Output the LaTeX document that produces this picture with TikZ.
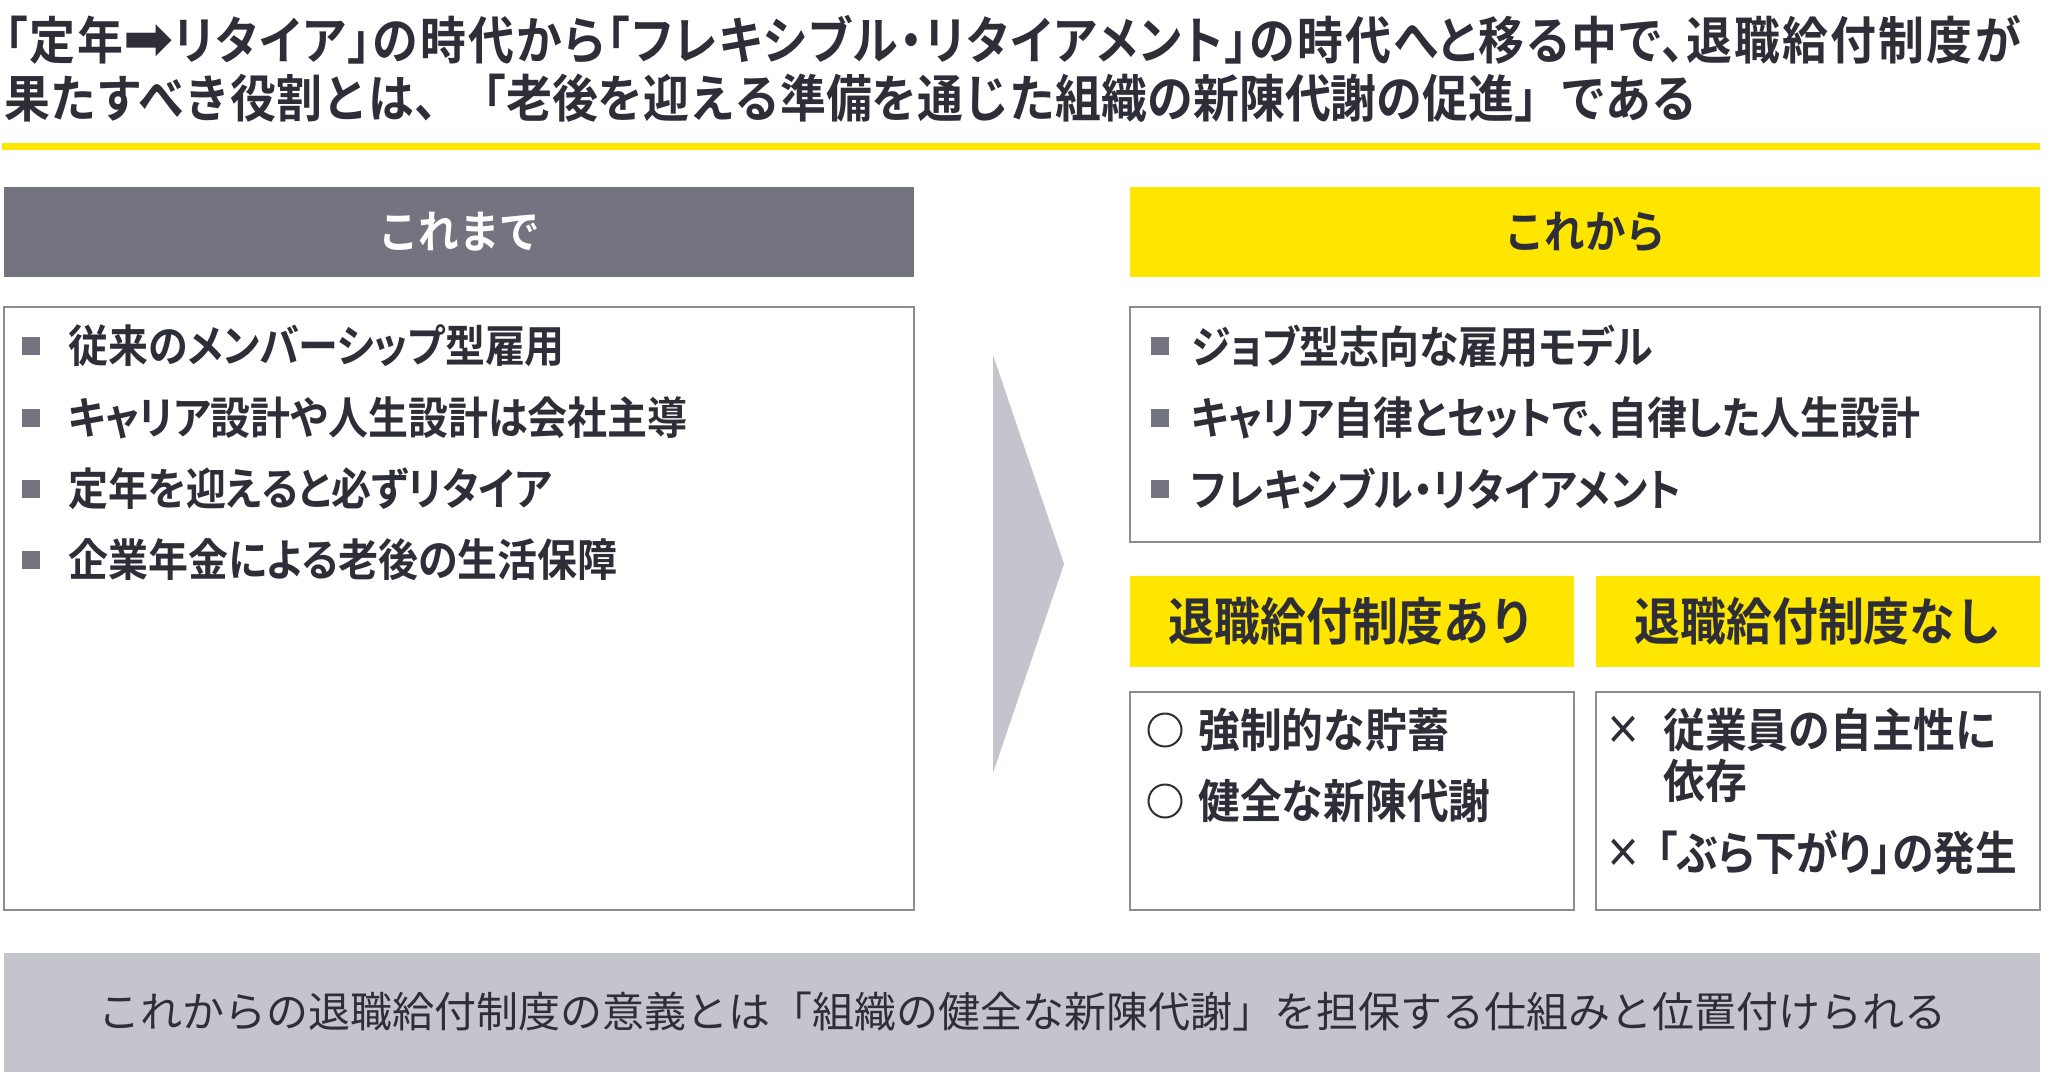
\documentclass[tikz,border=0pt]{standalone}
\usepackage{fontspec}
\usetikzlibrary{fit}
\newfontfamily\jpb{Noto Sans CJK JP Bold}[FakeStretch=0.9]
\newfontfamily\jpbp{Noto Sans CJK JP Bold}[FakeStretch=0.9,RawFeature=+palt]
\newfontfamily\jpbl{Noto Sans CJK JP Bold}[FakeStretch=0.9,RawFeature=+palt,LetterSpace=4.3]
\newfontfamily\jpr{Noto Sans CJK JP}
\newfontfamily\dejab{DejaVu Sans Bold}
\definecolor{txt}{HTML}{2E2E38}
\definecolor{ey}{HTML}{FFE600}
\definecolor{hgray}{HTML}{747480}
\definecolor{lgray}{HTML}{C4C4CD}
\definecolor{bord}{HTML}{8C8C96}
\tikzset{
  fs/.style={font=\jpb\fontsize{#1pt}{#1pt}\selectfont},
  fsp/.style={font=\jpbp\fontsize{#1pt}{#1pt}\selectfont},
  txtnode/.style={inner sep=0pt, text=txt},
  hdrbox/.style={inner sep=0pt, outer sep=0pt},
  cbox/.style={draw=bord, line width=1pt, fill=white, inner sep=0pt, outer sep=0pt},
  sq/.style={fill=hgray, inner sep=0pt, minimum size=9pt},
  circ/.style={draw=txt, line width=1pt, circle, inner sep=0pt, minimum size=16.5pt},
  rowtxt/.style={txtnode, anchor=west, fsp=22.2},
  subtxt/.style={txtnode, anchor=west, fs=23.2}
}
\begin{document}
\begin{tikzpicture}[x=0.5pt,y=-0.5pt]
\useasboundingbox (0,0) rectangle (2048,1072);
\fill[white] (0,0) rectangle (2048,1072);
% title
\node[txtnode, anchor=west, font=\jpbl\fontsize{25.5pt}{25.5pt}\selectfont] (t1) at (4,40) {「定年\smash{\dejab\fontsize{30pt}{30pt}\selectfont ➡}リタイア」の時代から「フレキシブル・リタイアメント」の時代へと移る中で、退職給付制度が};
\node[txtnode, anchor=west, fs=25.5] (t2) at (4,98) {果たすべき役割とは、「老後を迎える準備を通じた組織の新陳代謝の促進」である};
\fill[ey] (2,143) rectangle (2040,150);
% headers
\node[hdrbox, fill=hgray, fit={(4,187)(914,277)}] (h1) {};
\node[txtnode, text=white, fs=22.5] (h1t) at (h1.center) {これまで};
\node[hdrbox, fill=ey, fit={(1130,187)(2040,277)}] (h2) {};
\node[txtnode, fs=22.5] (h2t) at (h2.center) {これから};
% content boxes
\node[cbox, fit={(4,307)(914,910)}] (b1) {};
\node[cbox, fit={(1130,307)(2040,542)}] (b2) {};
% chevron
\fill[lgray] (993,355) -- (1064,564) -- (993,773) -- cycle;
% left rows
\node[sq] (s11) at (31,346) {};
\node[rowtxt] (r11) at (68,346) {従来のメンバーシップ型雇用};
\node[sq] (s12) at (31,418) {};
\node[rowtxt] (r12) at (68,418) {キャリア設計や人生設計は会社主導};
\node[sq] (s13) at (31,489) {};
\node[rowtxt] (r13) at (68,489) {定年を迎えると必ずリタイア};
\node[sq] (s14) at (31,560) {};
\node[rowtxt] (r14) at (68,560) {企業年金による老後の生活保障};
% right rows
\node[sq] (s21) at (1160,346) {};
\node[rowtxt] (r21) at (1191,346) {ジョブ型志向な雇用モデル};
\node[sq] (s22) at (1160,418) {};
\node[rowtxt] (r22) at (1191,418) {キャリア自律とセットで、自律した人生設計};
\node[sq] (s23) at (1160,489) {};
\node[rowtxt] (r23) at (1191,489) {フレキシブル・リタイアメント};
% sub headers
\node[hdrbox, fill=ey, fit={(1130,576)(1574,667)}] (sh1) {};
\node[txtnode, fs=25.5] (sh1t) at (sh1.center) {退職給付制度あり};
\node[hdrbox, fill=ey, fit={(1596,576)(2040,667)}] (sh2) {};
\node[txtnode, fs=25.5] (sh2t) at (sh2.center) {退職給付制度なし};
% sub boxes
\node[cbox, fit={(1130,692)(1574,910)}] (sb1) {};
\node[cbox, fit={(1596,692)(2040,910)}] (sb2) {};
\node[circ] (c1) at (1165,730) {};
\node[subtxt] (st1) at (1198,730) {強制的な貯蓄};
\node[circ] (c2) at (1165,801) {};
\node[subtxt] (st2) at (1198,801) {健全な新陳代謝};
\node[txtnode, fs=20] (x1) at (1623,730) {×};
\node[subtxt] (st3) at (1663,730) {従業員の自主性に};
\node[subtxt] (st4) at (1663,781) {依存};
\node[txtnode, fs=20] (x2) at (1623,853) {×};
\node[subtxt, fsp=23.2] (st5) at (1656,853) {「ぶら下がり」の発生};
% bottom bar
\node[hdrbox, fill=lgray, fit={(4,953)(2040,1072)}] (bar) {};
\node[txtnode, font=\jpr\fontsize{21pt}{21pt}\selectfont] (bt) at (1022,1012) {これからの退職給付制度の意義とは「組織の健全な新陳代謝」を担保する仕組みと位置付けられる};
\end{tikzpicture}
\end{document}
